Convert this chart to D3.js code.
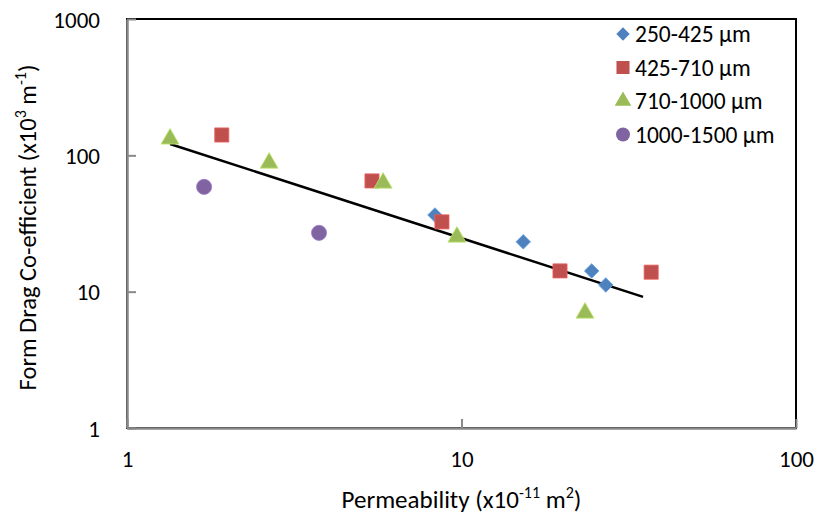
<!DOCTYPE html>
<html>
<head>
<meta charset="utf-8">
<script src="https://cdn.jsdelivr.net/npm/d3@7"></script>
<style>
  body { margin: 0; background: #fff; }
  svg text { font-family: Carlito, Calibri, Lato, sans-serif; fill: #000; }
</style>
</head>
<body>
<div id="chart"></div>
<script>
// Series (permeability x1e-11 m2, drag coefficient x1e3 m-1)
const seriesNames = ["250-425 µm", "425-710 µm", "710-1000 µm", "1000-1500 µm"];
const seriesColors = ["#4F81BD", "#C0504D", "#9BBB59", "#8064A2"];
const seriesShapes = ["diamond", "square", "triangle", "circle"];

const s1X = [8.33, 15.3, 24.5, 27.0];
const s1Y = [36.5, 23.2, 14.2, 11.2];
const s2X = [1.92, 5.40, 8.74, 19.7, 36.9];
const s2Y = [141, 64.9, 32.5, 14.2, 13.9];
const s3X = [1.345, 2.66, 5.83, 9.69, 23.4];
const s3Y = [132, 87.9, 62.7, 25.2, 6.98];
const s4X = [1.70, 3.75];
const s4Y = [58.7, 27.0];

// power trendline end points
const trendX = [1.345, 34.9];
const trendY = [121.2, 9.15];

const xTicks = [1, 10, 100];
const yTicks = [1, 10, 100, 1000];

const width = 822, height = 527;
const margin = { top: 19, right: 26, bottom: 99, left: 127 };
const innerW = width - margin.left - margin.right;
const innerH = height - margin.top - margin.bottom;

const svg = d3.select("#chart").append("svg")
  .attr("width", width).attr("height", height);

const g = svg.append("g")
  .attr("transform", `translate(${margin.left}, ${margin.top})`);

const xScale = d3.scaleLog().domain([1, 100]).range([0, innerW]);
const yScale = d3.scaleLog().domain([1, 1000]).range([innerH, 0]);

// plot border
g.append("rect")
  .attr("x", 0).attr("y", 0)
  .attr("width", innerW).attr("height", innerH)
  .attr("fill", "none").attr("stroke", "#000").attr("stroke-width", 2);

// axes, ticks pointing inside
const xAxis = g.append("g")
  .attr("transform", `translate(0, ${innerH})`)
  .call(d3.axisBottom(xScale).tickValues(xTicks).tickSize(-9).tickSizeOuter(0).tickPadding(21)
    .tickFormat(d3.format("d")));
const yAxis = g.append("g")
  .call(d3.axisLeft(yScale).tickValues(yTicks).tickSize(-9).tickSizeOuter(0).tickPadding(27)
    .tickFormat(d3.format("d")));

[xAxis, yAxis].forEach(a => {
  a.select(".domain").attr("stroke", "#898989").attr("stroke-width", 2.5);
  a.selectAll(".tick line").attr("stroke", "#898989").attr("stroke-width", 2);
  a.selectAll(".tick text").style("font-size", "23px").attr("fill", "#000");
});
xAxis.selectAll(".tick text").attr("dy", "0.8em");
yAxis.selectAll(".tick text").attr("dy", "0.35em");

// trendline
g.append("path")
  .datum(d3.zip(trendX, trendY))
  .attr("fill", "none")
  .attr("stroke", "#000")
  .attr("stroke-width", 2.5)
  .attr("d", d3.line().x(d => xScale(d[0])).y(d => yScale(d[1])));

const symbolTypes = {
  diamond: d3.symbolSquare,
  square: d3.symbolSquare,
  triangle: d3.symbolTriangle,
  circle: d3.symbolCircle
};
const symbolSizes = { diamond: 105, square: 200, triangle: 140, circle: 180 };
const symbolRotate = { diamond: 45, square: 0, triangle: 0, circle: 0 };

function symbolPath(shape, k) {
  return d3.symbol().type(symbolTypes[shape]).size(symbolSizes[shape] * (k || 1))();
}

const allX = [s1X, s2X, s3X, s4X];
const allY = [s1Y, s2Y, s3Y, s4Y];

allX.forEach((xs, i) => {
  const shape = seriesShapes[i];
  const pts = d3.zip(xs, allY[i]);
  g.selectAll(".dot-s" + i)
    .data(pts)
    .enter()
    .append("path")
    .attr("class", "dot-s" + i)
    .attr("d", symbolPath(shape))
    .attr("transform", d => `translate(${xScale(d[0])}, ${yScale(d[1])}) rotate(${symbolRotate[shape]})`)
    .attr("fill", seriesColors[i])
    .attr("stroke", d3.color(seriesColors[i]).brighter(0.6))
    .attr("stroke-width", 0.8);
});

// legend
const legend = g.append("g").attr("transform", "translate(496, 15)");
seriesNames.forEach((name, i) => {
  const shape = seriesShapes[i];
  const row = legend.append("g").attr("transform", `translate(0, ${i * 33.5})`);
  row.append("path")
    .attr("d", symbolPath(shape, 0.85))
    .attr("transform", `rotate(${symbolRotate[shape]})`)
    .attr("fill", seriesColors[i]);
  row.append("text")
    .attr("x", 12).attr("y", 0).attr("dy", "0.35em")
    .style("font-size", "23.5px")
    .text(name);
});

// axis titles
const xTitle = svg.append("text")
  .attr("x", margin.left + innerW / 2)
  .attr("y", 508)
  .attr("text-anchor", "middle")
  .style("font-size", "25px");
xTitle.append("tspan").text("Permeability (x10");
xTitle.append("tspan").attr("dy", -10).style("font-size", "16px").text("-11");
xTitle.append("tspan").attr("dy", 10).text(" m");
xTitle.append("tspan").attr("dy", -10).style("font-size", "16px").text("2");
xTitle.append("tspan").attr("dy", 10).text(")");

const yTitle = svg.append("text")
  .attr("transform", `translate(36, ${margin.top + innerH / 2 + 4}) rotate(-90)`)
  .attr("text-anchor", "middle")
  .style("font-size", "24.5px");
yTitle.append("tspan").text("Form Drag Co-efficient (x10");
yTitle.append("tspan").attr("dy", -10).style("font-size", "16px").text("3");
yTitle.append("tspan").attr("dy", 10).text(" m");
yTitle.append("tspan").attr("dy", -10).style("font-size", "16px").text("-1");
yTitle.append("tspan").attr("dy", 10).text(")");
</script>
</body>
</html>
